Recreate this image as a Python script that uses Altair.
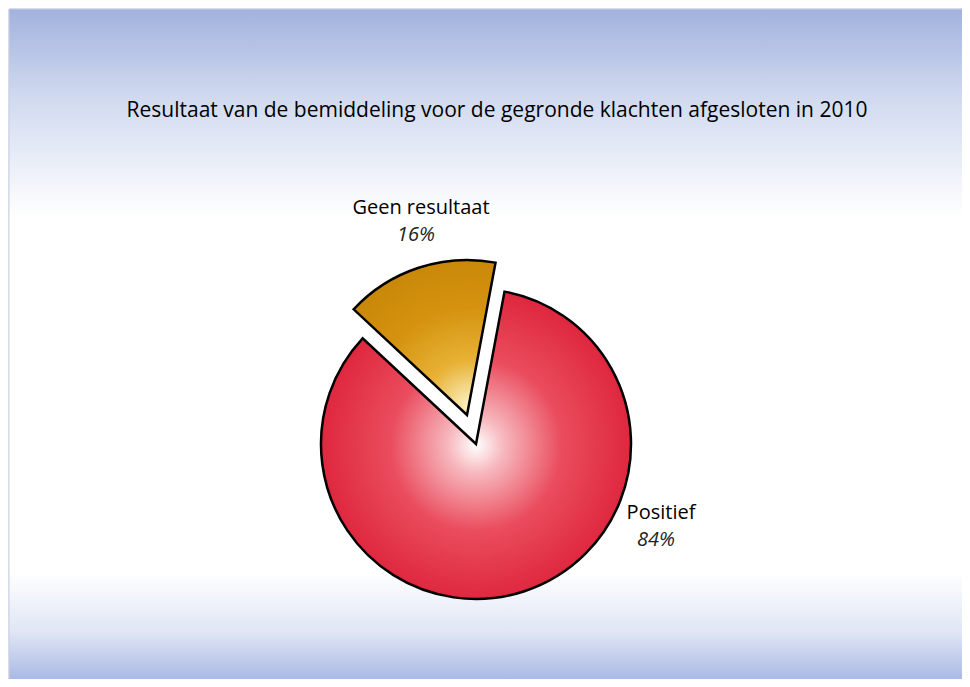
import altair as alt
import pandas as pd

# ---- data ----
categories = ["Positief", "Geen resultaat"]
values = [84, 16]
pct_labels = ["84%", "16%"]
order = [0, 1]
title_text = "Resultaat van de bemiddeling voor de gegronde klachten afgesloten in 2010"

df = pd.DataFrame({"categorie": categories, "waarde": values,
                   "pct": pct_labels, "volgorde": order})

W, H = 954, 671
CX, CY = 467, 435          # pie centre in view coords
R = 155
START = 0.185              # radians, where the "Positief" slice begins (clockwise from 12 o'clock)
FONT = "Open Sans"

base = alt.Chart(df).transform_joinaggregate(
    total="sum(waarde)"
).transform_window(
    cum="sum(waarde)", sort=[alt.SortField("volgorde")]
).transform_calculate(
    start=f"{START} + 2*PI*(datum.cum - datum.waarde)/datum.total",
    end=f"{START} + 2*PI*datum.cum/datum.total",
)

background = alt.Chart(df).mark_rect(
    fill=alt.Gradient(
        gradient="linear", x1=0, y1=0, x2=0, y2=1,
        stops=[
            alt.GradientStop(color="#a2b2de", offset=0),
            alt.GradientStop(color="#d0d9ef", offset=0.13),
            alt.GradientStop(color="#ffffff", offset=0.31),
            alt.GradientStop(color="#ffffff", offset=0.84),
            alt.GradientStop(color="#dfe5f5", offset=0.93),
            alt.GradientStop(color="#a9b9e4", offset=1),
        ],
    ),
    stroke="#c9d0e0", strokeWidth=1,
).encode(x=alt.value(0), x2=alt.value(W), y=alt.value(0), y2=alt.value(H))

red = base.transform_filter(alt.datum.categorie == "Positief").mark_arc(
    radius=R, stroke="black", strokeWidth=2.5, strokeJoin="miter",
    fill=alt.Gradient(
        gradient="radial", x1=0.5, y1=0.5, r1=0, x2=0.5, y2=0.5, r2=0.55,
        stops=[
            alt.GradientStop(color="#ffffff", offset=0),
            alt.GradientStop(color="#f7b9bf", offset=0.16),
            alt.GradientStop(color="#ea4d5e", offset=0.5),
            alt.GradientStop(color="#dc1f37", offset=1),
        ],
    ),
).encode(
    theta=alt.Theta("start:Q", scale=None), theta2=alt.Theta2("end:Q"),
    x=alt.value(CX), y=alt.value(CY),
)

gold = base.transform_filter(alt.datum.categorie == "Geen resultaat").mark_arc(
    radius=R, stroke="black", strokeWidth=2.5, strokeJoin="miter",
    fill=alt.Gradient(
        gradient="radial", x1=0.8, y1=0.95, r1=0, x2=0.8, y2=0.95, r2=1.0,
        stops=[
            alt.GradientStop(color="#fdf6cc", offset=0),
            alt.GradientStop(color="#e8b236", offset=0.3),
            alt.GradientStop(color="#d4920e", offset=0.65),
            alt.GradientStop(color="#c9870a", offset=1),
        ],
    ),
).encode(
    theta=alt.Theta("start:Q", scale=None), theta2=alt.Theta2("end:Q"),
    x=alt.value(CX - 9), y=alt.value(CY - 29),
)

title = alt.Chart(df).transform_filter(alt.datum.volgorde == 0).mark_text(
    font=FONT, fontSize=21, color="black", baseline="middle", align="center",
).encode(x=alt.value(488), y=alt.value(102), text=alt.value(title_text))

def label(cat, x, y):
    sub = alt.Chart(df).transform_filter(alt.datum.categorie == cat)
    name = sub.mark_text(font=FONT, fontSize=20, color="black",
                         baseline="middle", align="center").encode(
        x=alt.value(x), y=alt.value(y), text="categorie:N")
    pct = sub.mark_text(font=FONT, fontSize=20, fontStyle="italic", color="#222222",
                        baseline="middle", align="center").encode(
        x=alt.value(x - 5), y=alt.value(y + 27), text="pct:N")
    return name + pct

chart = alt.layer(
    background, red, gold, title,
    label("Geen resultaat", 412, 199),
    label("Positief", 652, 504),
).properties(
    width=W, height=H,
    autosize=alt.AutoSizeParams(type="fit", contains="padding"),
    padding=0,
).configure_view(stroke=None)

chart.save("out.html", embed_options={"renderer": "svg", "actions": False})
